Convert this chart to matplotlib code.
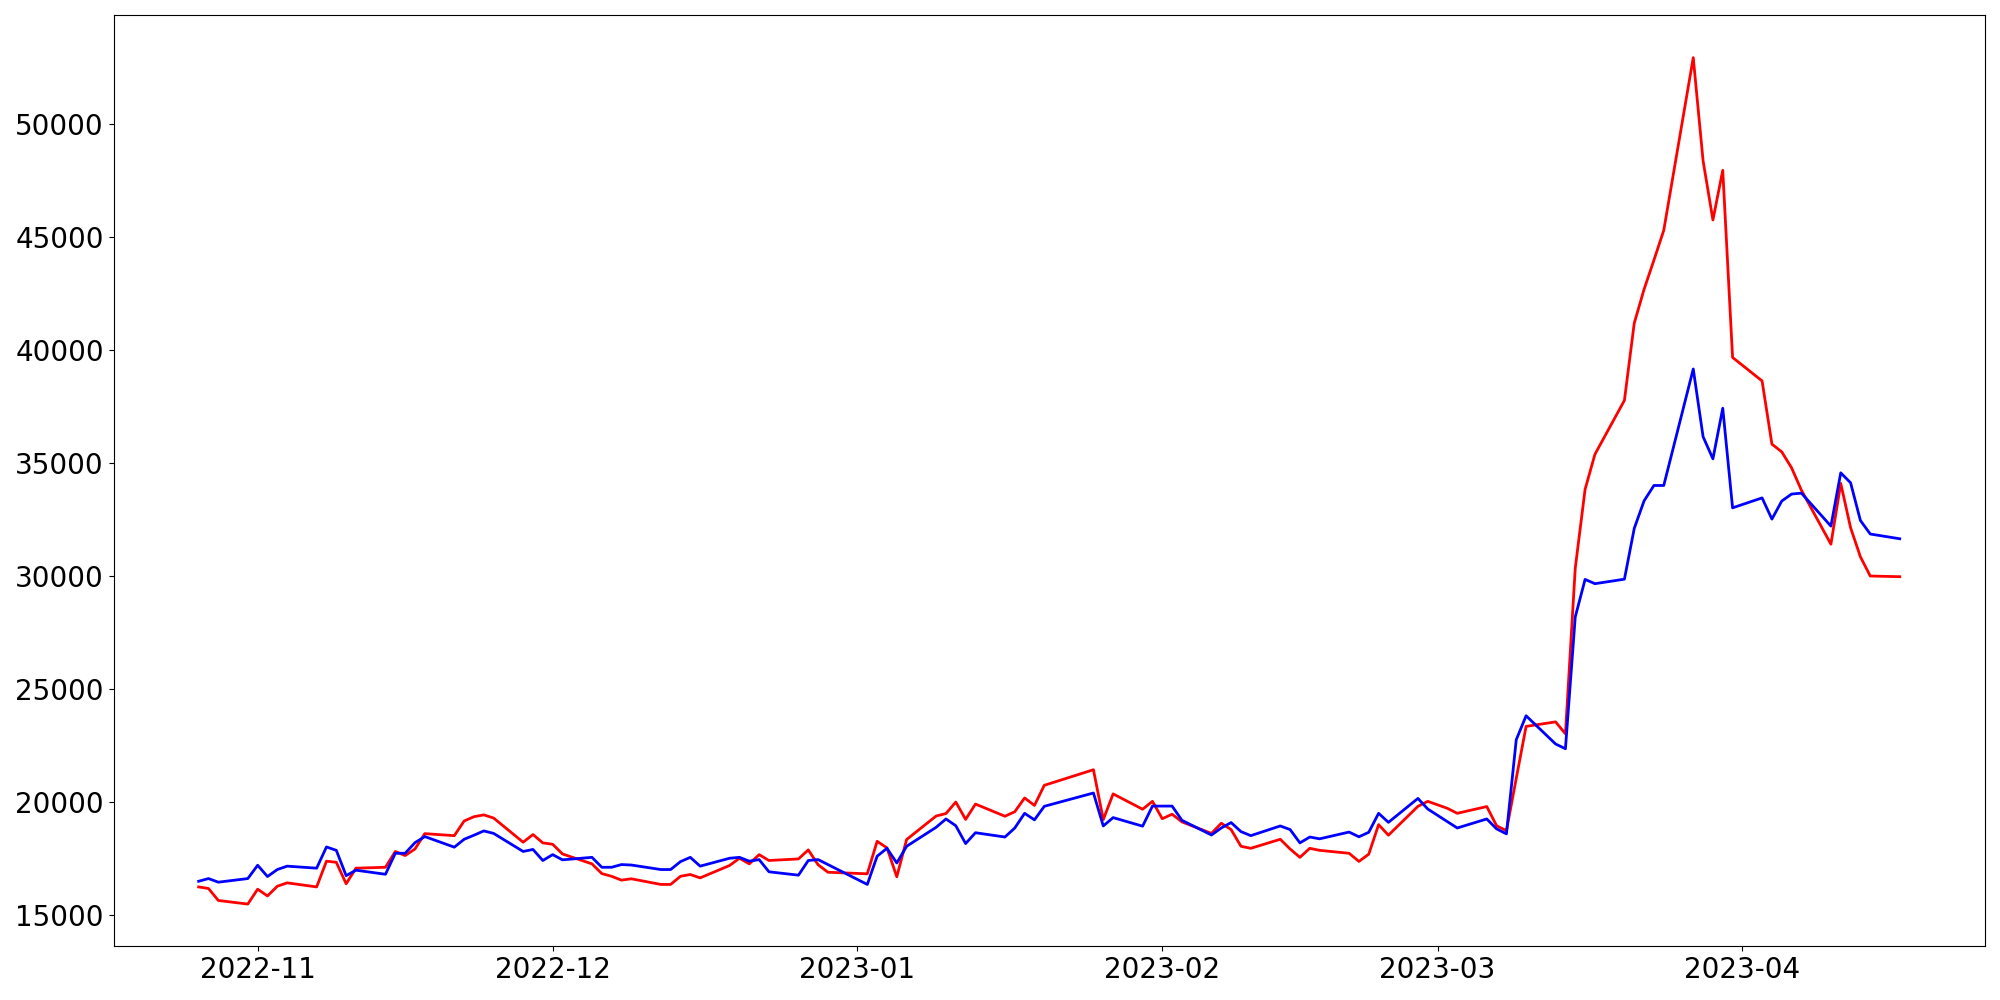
import matplotlib
matplotlib.use("Agg")
import matplotlib.pyplot as plt
import matplotlib.dates as mdates
import pandas as pd

# Korean trading days (KRX calendar) 2022-10-26 .. 2023-04-17
holidays = ["2022-12-30", "2023-01-23", "2023-01-24", "2023-03-01"]
dates = pd.bdate_range("2022-10-26", "2023-04-17", freq="C", holidays=holidays)

red_values = [
    16230, 16160, 15630, 15470,                      # Oct 26-31
    16130, 15830, 16260, 16410,                      # Nov 1-4
    16230, 17370, 17320, 16370, 17060,               # Nov 7-11
    17100, 17800, 17620, 17910, 18590,               # Nov 14-18
    18500, 19150, 19340, 19420, 19280,               # Nov 21-25
    18210, 18550, 18180, 18120, 17690,               # Nov 28 - Dec 2
    17250, 16820, 16700, 16530, 16590,               # Dec 5-9
    16340, 16340, 16700, 16780, 16630,               # Dec 12-16
    17180, 17500, 17250, 17660, 17400,               # Dec 19-23
    17470, 17870, 17210, 16880,                      # Dec 26-29
    16810, 18250, 17960, 16680, 18330,               # Jan 2-6
    19370, 19480, 19990, 19220, 19900,               # Jan 9-13
    19360, 19560, 20170, 19840, 20730,               # Jan 16-20
    21420, 19210, 20350,                             # Jan 25-27
    19670, 20020, 19250, 19450, 19110,               # Jan 30 - Feb 3
    18600, 19050, 18770, 18030, 17940,               # Feb 6-10
    18340, 17910, 17540, 17940, 17850,               # Feb 13-17
    17720, 17360, 17680, 18990, 18520,               # Feb 20-24
    19800, 20020, 19710, 19490,                      # Feb 27 - Mar 3
    19790, 18940, 18720, 21040, 23340,               # Mar 6-10
    23540, 23010, 30350, 33840, 35390,               # Mar 13-17
    37780, 41200, 42700, 43990, 45310,               # Mar 20-24
    52960, 48390, 45770, 47970, 39680,               # Mar 27-31
    38640, 35840, 35500, 34790, 33800,               # Apr 3-7
    31410, 34100, 32140, 30850, 30000,               # Apr 10-14
    29970,                                           # Apr 17
]

blue_values = [
    16480, 16600, 16440, 16600,                      # Oct 26-31
    17190, 16690, 17000, 17150,                      # Nov 1-4
    17060, 18000, 17850, 16730, 16970,               # Nov 7-11
    16790, 17720, 17720, 18190, 18460,               # Nov 14-18
    17990, 18340, 18520, 18710, 18600,               # Nov 21-25
    17800, 17890, 17400, 17660, 17430,               # Nov 28 - Dec 2
    17540, 17100, 17100, 17220, 17200,               # Dec 5-9
    17000, 17000, 17350, 17540, 17150,               # Dec 12-16
    17500, 17540, 17370, 17440, 16900,               # Dec 19-23
    16750, 17400, 17440, 17220,                      # Dec 26-29
    16340, 17590, 17940, 17290, 18030,               # Jan 2-6
    18870, 19240, 18940, 18150, 18630,               # Jan 9-13
    18440, 18840, 19490, 19200, 19800,               # Jan 16-20
    20390, 18930, 19300,                             # Jan 25-27
    18920, 19810, 19810, 19810, 19180,               # Jan 30 - Feb 3
    18530, 18840, 19080, 18680, 18500,               # Feb 6-10
    18930, 18770, 18180, 18440, 18360,               # Feb 13-17
    18660, 18450, 18650, 19490, 19090,               # Feb 20-24
    20150, 19680, 19120, 18840,                      # Feb 27 - Mar 3
    19240, 18800, 18580, 22750, 23810,               # Mar 6-10
    22560, 22350, 28190, 29850, 29660,               # Mar 13-17
    29860, 32110, 33330, 34010, 34010,               # Mar 20-24
    39170, 36170, 35190, 37430, 33020,               # Mar 27-31
    33460, 32520, 33320, 33630, 33670,               # Apr 3-7
    32210, 34570, 34130, 32460, 31860,               # Apr 10-14
    31650,                                           # Apr 17
]

fig = plt.figure(figsize=(20, 10), dpi=100)
ax = fig.add_axes([0.0568, 0.0536, 0.9356, 0.9311])
ax.plot(dates, red_values, color="red", linewidth=2)
ax.plot(dates, blue_values, color="blue", linewidth=2)

ax.xaxis.set_major_locator(mdates.MonthLocator())
ax.xaxis.set_major_formatter(mdates.DateFormatter("%Y-%m"))
ax.tick_params(axis="both", labelsize=20)

fig.savefig("out.png", dpi=100)
